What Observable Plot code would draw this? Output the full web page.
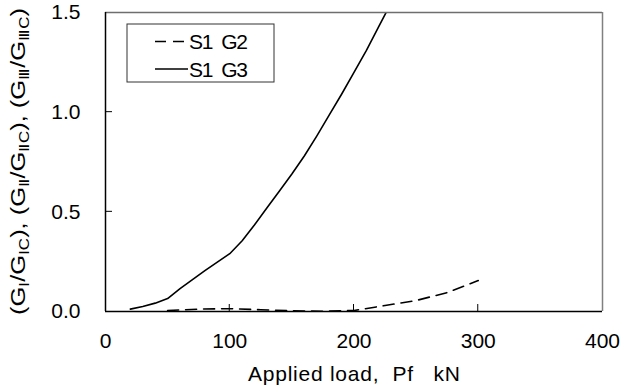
<!DOCTYPE html>
<html><head><meta charset="utf-8">
<script src="https://cdn.jsdelivr.net/npm/d3@7"></script>
<script src="https://cdn.jsdelivr.net/npm/@observablehq/plot@0.6"></script>
<style>body{margin:0;background:#fff} svg{display:block}</style>
</head><body><div id="chart"></div>
<script>
// Series S1 G3 (solid)
const loadG3 = [20, 30, 40, 50, 60, 70, 80, 90, 100, 110, 120, 130, 140, 150, 160, 170, 180, 190, 200, 210, 220, 230];
const ratioG3 = [0.012, 0.025, 0.042, 0.065, 0.115, 0.16, 0.205, 0.248, 0.29, 0.355, 0.435, 0.52, 0.605, 0.69, 0.78, 0.88, 0.985, 1.09, 1.2, 1.31, 1.43, 1.55];
// Series S1 G2 (dashed)
const loadG2 = [50, 75, 100, 125, 150, 175, 200, 225, 250, 275, 300];
const ratioG2 = [0.005, 0.012, 0.014, 0.009, 0.004, 0.001, 0.005, 0.03, 0.055, 0.095, 0.155];
const seriesNames = ["S1 G2", "S1 G3"];
const xTicks = [0, 100, 200, 300, 400];
const yTicks = [0, 0.5, 1.0, 1.5];
const xLabel = "Applied load,  Pf   kN";

const g3 = loadG3.map((x, i) => ({x, y: ratioG3[i]}));
const g2 = loadG2.map((x, i) => ({x, y: ratioG2[i]}));

const W = 634, H = 389, mL = 105, mR = 32, mT = 12, mB = 78;
const font = "'Liberation Sans', Arial, sans-serif";

const svg = Plot.plot({
  width: W, height: H,
  marginLeft: mL, marginRight: mR, marginTop: mT, marginBottom: mB,
  style: {fontSize: "21px", fontFamily: font, color: "#000", background: "#fff"},
  x: {domain: [0, 400], ticks: xTicks},
  y: {domain: [0, 1.5], ticks: yTicks},
  marks: [
    Plot.line(g2, {x: "x", y: "y", stroke: "#000", strokeWidth: 1.6, strokeDasharray: "11,7", clip: true}),
    Plot.line(g3, {x: "x", y: "y", stroke: "#000", strokeWidth: 1.6, clip: true}),
    Plot.ruleY([1.5], {stroke: "#6e6e6e", strokeWidth: 1.5}),
    Plot.ruleX([400], {stroke: "#808080", strokeWidth: 1.5}),
    Plot.ruleY([0], {stroke: "#000", strokeWidth: 1.5}),
    Plot.ruleX([0], {stroke: "#000", strokeWidth: 1.5}),
    Plot.axisX(xTicks, {tickSize: 0, tickPadding: 22, label: null, tickFormat: d => String(d)}),
    Plot.axisY(yTicks, {tickSize: 0, tickPadding: 25, label: null, tickFormat: d => d.toFixed(1)})
  ]
});
document.getElementById("chart").appendChild(svg);

const s = d3.select(svg);
const sx = svg.scale("x"), sy = svg.scale("y");
const x0 = sx.apply(0), y0 = sy.apply(0);

// Inward tick marks
const tg = s.append("g").attr("stroke", "#000").attr("stroke-width", 1);
for (const v of xTicks.slice(1, -1)) {
  const px = sx.apply(v);
  tg.append("line").attr("x1", px).attr("x2", px).attr("y1", y0).attr("y2", y0 - 7);
}
for (const v of yTicks.slice(1, -1)) {
  const py = sy.apply(v);
  tg.append("line").attr("x1", x0).attr("x2", x0 + 7).attr("y1", py).attr("y2", py);
}

// X axis title
s.append("text")
  .attr("x", 354).attr("y", 381)
  .attr("text-anchor", "middle")
  .attr("font-family", font).attr("font-size", 21)
  .attr("fill", "#000")
  .style("white-space", "pre")
  .attr("textLength", 212).attr("lengthAdjust", "spacing")
  .text(xLabel);

// Y axis title with subscripts
const yt = s.append("text")
  .attr("transform", "translate(25,161.5) rotate(-90)")
  .attr("text-anchor", "middle")
  .attr("font-family", font).attr("font-size", 21)
  .attr("fill", "#000")
  .style("white-space", "pre");
const parts = [["(G", "Ⅰ"], ["/G", "ⅠC"], ["), (G", "Ⅱ"], ["/G", "ⅡC"], ["), (G", "Ⅲ"], ["/G", "ⅢC"], [")", null]];
for (const [main, sub] of parts) {
  yt.append("tspan").text(main);
  if (sub) yt.append("tspan").attr("font-size", "14px").attr("baseline-shift", "-4").text(sub);
}
yt.attr("textLength", 307).attr("lengthAdjust", "spacingAndGlyphs");

// Legend
const lg = s.append("g");
lg.append("rect").attr("x", 127).attr("y", 24).attr("width", 147).attr("height", 58)
  .attr("fill", "#fff").attr("stroke", "#333").attr("stroke-width", 1);
const rows = [{name: seriesNames[0], dash: "11,7", y: 41.5}, {name: seriesNames[1], dash: null, y: 69}];
for (const r of rows) {
  lg.append("line").attr("x1", 155).attr("x2", 188).attr("y1", r.y).attr("y2", r.y)
    .attr("stroke", "#000").attr("stroke-width", 1.6).attr("stroke-dasharray", r.dash);
  lg.append("text").attr("x", 189).attr("y", r.y + 7.5)
    .attr("text-anchor", "start")
    .attr("font-family", font).attr("font-size", 21).attr("fill", "#000")
    .style("white-space", "pre")
    .attr("textLength", 59).attr("lengthAdjust", "spacing")
    .text(r.name.replace(" ", "  "));
}
</script>
</body></html>
